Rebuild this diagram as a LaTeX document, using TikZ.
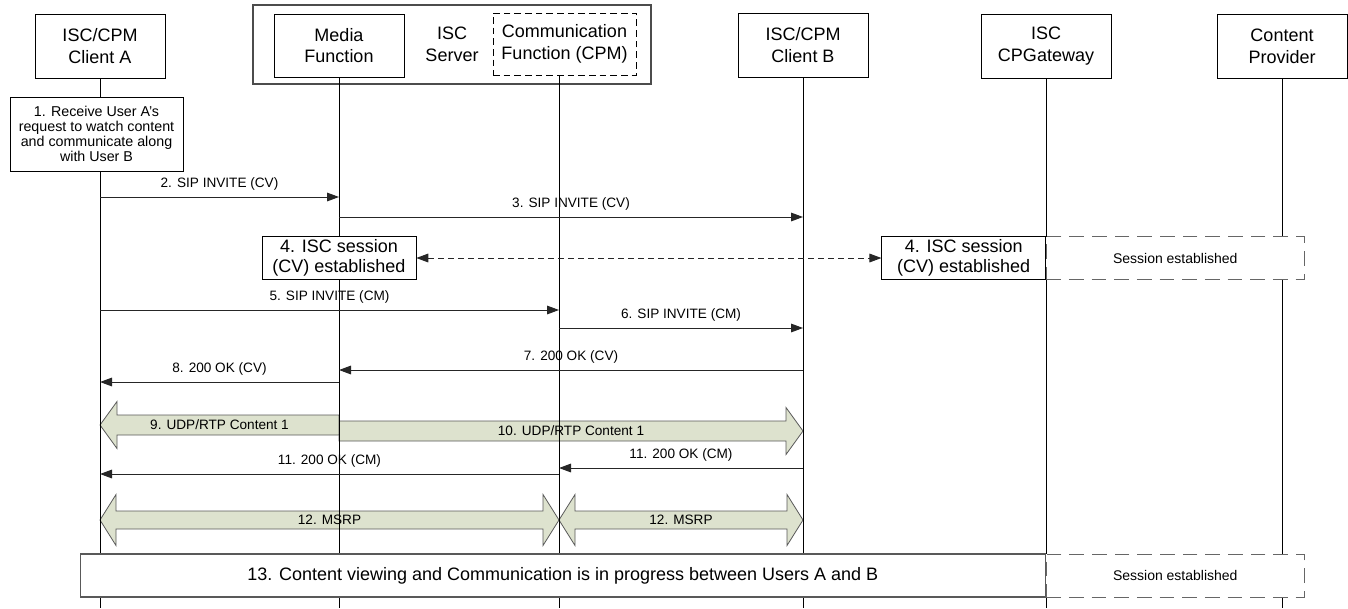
\documentclass[tikz,border=0pt]{standalone}
\usepackage{fontspec}
\setmainfont{Liberation Sans}
\usepackage{xcolor}
\usepackage{tikz}
\usetikzlibrary{arrows.meta, positioning, calc}

\definecolor{arrowgreen}{RGB}{221,226,206}

\begin{document}
\begin{tikzpicture}[x=0.75pt, y=-0.75pt, >={Triangle[length=9pt, width=6.5pt]}]
    \tikzstyle{head} = [draw, rectangle, minimum width=97.5pt, minimum height=48pt, align=center, inner sep=0pt, font=\fontsize{13.5}{16.2}\selectfont]
    \tikzstyle{group} = [draw=gray!60!black, line width=1.5pt, rectangle, minimum width=298.5pt, minimum height=59.25pt, align=center, font=\fontsize{13.5}{16.2}\selectfont]
    \tikzstyle{note} = [draw, rectangle, fill=white, align=center, inner sep=0pt, minimum height=32.25pt, font=\fontsize{13.5}{15}\selectfont]
    \tikzstyle{estab} = [draw=gray!80!black, dash pattern=on 11pt off 6pt, rectangle, fill=white, inner sep=0pt, minimum width=193.5pt, minimum height=32.25pt, font=\fontsize{10.5}{12}\selectfont]
    \tikzstyle{msg} = [->, line width=0.75pt, draw=black!85]
    \tikzstyle{lbl} = [above=1pt, font=\fontsize{10.2}{12}\selectfont]
    \tikzstyle{bigarrow} = [draw=gray!70!black, fill=arrowgreen, line width=0.6pt]
    \tikzstyle{biglbl} = [font=\fontsize{10.2}{12}\selectfont]
    \tikzstyle{life} = [line width=0.75pt]

    \useasboundingbox (0,0) rectangle (1348,608);

    % participants
    \node[group] (server) at (452,44.5) {ISC\\Server};
    \node[head] (clientA) at (100,46) {ISC/CPM\\Client A};
    \node[head, minimum height=47.25pt] (media) at (339,45.5) {Media\\Function};
    \node[head, dash pattern=on 5pt off 3pt, minimum width=107.25pt, minimum height=46.5pt] (comm) at (564.5,44) {Communication\\Function (CPM)};
    \node[head] (clientB) at (803,45) {ISC/CPM\\Client B};
    \node[head] (gateway) at (1046,46) {ISC\\CPGateway};
    \node[head] (provider) at (1282,46) {Content\\Provider};
    \coordinate (commL) at (559,75);
    \coordinate (bottom) at (0,608);

    % rows
    \coordinate (r2) at (0,197);
    \coordinate (r3) at (0,217);
    \coordinate (r4) at (0,258);
    \coordinate (r5) at (0,310);
    \coordinate (r6) at (0,328);
    \coordinate (r7) at (0,370);
    \coordinate (r8) at (0,382);
    \coordinate (r9) at (0,425);
    \coordinate (r10) at (0,431);
    \coordinate (r11) at (0,468);
    \coordinate (r11b) at (0,474);
    \coordinate (r12) at (0,520);
    \coordinate (r13) at (0,575.5);

    % media and msrp streams
    \draw[bigarrow] (clientB |- r10) -- ++(-17,-23.5) -- ++(0,13.5) -- ($(media |- r10)+(0,-10)$) -- ++(0,20) -- ($(clientB |- r10)+(-17,10)$) -- ++(0,13.5) -- cycle;
    \draw[bigarrow] (clientA |- r9) -- ++(17,-23.5) -- ++(0,13.5) -- ($(media |- r9)+(0,-10)$) -- ++(0,20) -- ($(clientA |- r9)+(17,10)$) -- ++(0,13.5) -- cycle;
    \node[biglbl] (t9) at ($(clientA |- r9)!0.5!(media |- r9)$) {9. UDP/RTP Content 1};
    \node[biglbl] (t10) at ($(media |- r10)!0.5!(clientB |- r10)$) {10. UDP/RTP Content 1};

    \draw[bigarrow] (clientA |- r12) -- ++(16,-25.5) -- ++(0,16.5) -- ($(commL |- r12)+(-16,-9)$) -- ++(0,-16.5) -- (commL |- r12) -- ++(-16,25.5) -- ++(0,-16.5) -- ($(clientA |- r12)+(16,9)$) -- ++(0,16.5) -- cycle;
    \draw[bigarrow] (commL |- r12) -- ++(16,-25.5) -- ++(0,16.5) -- ($(clientB |- r12)+(-16,-9)$) -- ++(0,-16.5) -- (clientB |- r12) -- ++(-16,25.5) -- ++(0,-16.5) -- ($(commL |- r12)+(16,9)$) -- ++(0,16.5) -- cycle;
    \node[biglbl] (t12a) at ($(clientA |- r12)!0.5!(commL |- r12)$) {12. MSRP};
    \node[biglbl] (t12b) at ($(commL |- r12)!0.5!(clientB |- r12)$) {12. MSRP};

    % lifelines
    \draw[life] (clientA.south) -- (clientA.south |- bottom);
    \draw[life] (media.south) -- (media.south |- bottom);
    \draw[life] (commL) -- (commL |- bottom);
    \draw[life] (clientB.south) -- (clientB.south |- bottom);
    \draw[life] (gateway.south) -- (gateway.south |- bottom);
    \draw[life] (provider.south) -- (provider.south |- bottom);

    % boxes on the lifelines
    \node[draw, fill=white, align=center, inner sep=0pt, minimum width=129.75pt, minimum height=55.5pt, font=\fontsize{10.7}{11.25}\selectfont] (recv) at (96.5,134) {1. Receive User A’s\\request to watch content\\and communicate along\\with User B};
    \node[note, minimum width=115.5pt] (sessL) at (media |- r4) {4. ISC session\\(CV) established};
    \node[estab, anchor=west] (estab1) at (gateway |- r4) {Session established};
    \node[note, minimum width=123pt, anchor=east] (sessR) at (gateway |- r4) {4. ISC session\\(CV) established};
    \node[estab, anchor=west] (estab2) at (gateway |- r13) {Session established};
    \node[note, draw=gray!70!black, line width=1pt, minimum width=723.75pt, anchor=east] (progress) at (gateway |- r13) {13. Content viewing and Communication is in progress between Users A and B};

    % messages
    \draw[msg] (clientA |- r2) -- node[lbl] (m2) {2. SIP INVITE (CV)} (media |- r2);
    \draw[msg] (media |- r3) -- node[lbl] (m3) {3. SIP INVITE (CV)} (clientB |- r3);
    \draw[msg, <->, dash pattern=on 4.5pt off 3pt] (sessL.east) -- (sessR.west);
    \draw[msg] (clientA |- r5) -- node[lbl] (m5) {5. SIP INVITE (CM)} (commL |- r5);
    \draw[msg] (commL |- r6) -- node[lbl] (m6) {6. SIP INVITE (CM)} (clientB |- r6);
    \draw[msg] (clientB |- r7) -- node[lbl] (m7) {7. 200 OK (CV)} (media |- r7);
    \draw[msg] (media |- r8) -- node[lbl] (m8) {8. 200 OK (CV)} (clientA |- r8);
    \draw[msg] (clientB |- r11) -- node[lbl] (m11) {11. 200 OK (CM)} (commL |- r11);
    \draw[msg] (commL |- r11b) -- node[lbl] (m11b) {11. 200 OK (CM)} (clientA |- r11b);
\end{tikzpicture}
\end{document}
